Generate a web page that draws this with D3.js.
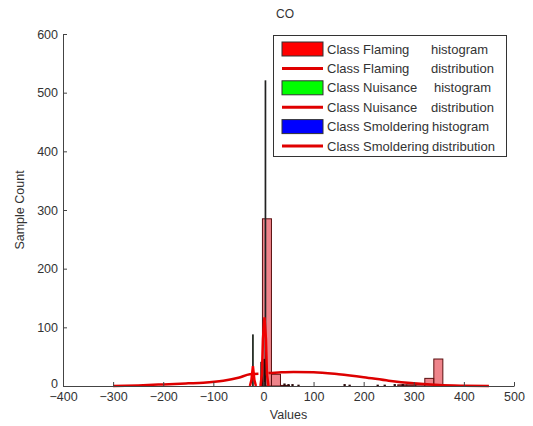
<!DOCTYPE html>
<html>
<head>
<meta charset="utf-8">
<script src="https://cdn.jsdelivr.net/npm/d3@7"></script>
<style>
  body { margin: 0; background: #fff; }
  svg { display: block; font-family: "Liberation Sans", Arial, sans-serif; }
</style>
</head>
<body>
<div id="chart"></div>
<script>
// ticks
const xTicks = [-400, -300, -200, -100, 0, 100, 200, 300, 400, 500];
const yTicks = [0, 100, 200, 300, 400, 500, 600];

// Flaming histogram: bin start, bin end, count
const flamingBins = [
  [-2, 16, 285], [16, 34, 20], [34, 52, 1],
  [268, 286, 2], [286, 304, 2], [304, 322, 3],
  [322, 340, 13], [340, 358, 46]
];
// Nuisance histogram (very narrow bins): centre, count
const nuisanceBins = [[-21, 87], [4, 520]];
// Smoldering histogram (very narrow bins): centre, count
const smolderingBins = [
  [-4, 40], [2, 45], [42, 3], [50, 2], [58, 2], [70, 1],
  [162, 2], [172, 1], [228, 1], [242, 1], [262, 2], [278, 2]
];

// distribution curves (value, count)
const flamingDist = [
  [10, 22], [30, 23], [60, 24], [100, 23.5], [150, 20], [200, 15],
  [250, 9], [300, 4.5], [350, 1.5], [400, 0.4], [450, 0]
];
const smolderingDist = [
  [-300, 0], [-250, 1], [-200, 2.7], [-150, 4.5], [-120, 5.6],
  [-80, 9], [-50, 14], [-27, 20], [-10, 21]
];
const nuisanceDist = [
  [-6, 0], [-3, 20], [-1, 80], [2, 117], [5, 80], [7, 20], [10, 0]
];
const nuisanceDist2 = [
  [-27, 0], [-24, 10], [-21, 34], [-18, 10], [-15, 0]
];

// legend rows: swatch type, colour, class text, kind text
const legendItems = [
  { type: "patch", color: "#ff0000", a: "Class Flaming", b: "histogram" },
  { type: "line", color: "#e00000", a: "Class Flaming", b: "distribution" },
  { type: "patch", color: "#00ff00", a: "Class Nuisance", b: "histogram" },
  { type: "line", color: "#e00000", a: "Class Nuisance", b: "distribution" },
  { type: "patch", color: "#0000ff", a: "Class Smoldering", b: "histogram" },
  { type: "line", color: "#e00000", a: "Class Smoldering", b: "distribution" }
];
// x of the second word in each row (the original pads with spaces)
const legendTextB = [431, 431, 434, 431, 432, 432];

let width = 533, height = 426;
let svg = d3.select("#chart").append("svg")
  .attr("width", width)
  .attr("height", height);

let x = d3.scaleLinear().domain([-400, 500]).range([63, 514]);
let y = d3.scaleLinear().domain([0, 600]).range([386, 34]);

// flaming bars (semi-transparent red)
svg.append("g").selectAll("rect")
  .data(flamingBins)
  .enter().append("rect")
  .attr("x", d => x(d[0]))
  .attr("y", d => y(d[2]))
  .attr("width", d => x(d[1]) - x(d[0]))
  .attr("height", d => y(0) - y(d[2]))
  .attr("fill", "#e8505a")
  .attr("fill-opacity", 0.7)
  .attr("stroke", "#5a1010")
  .attr("stroke-width", 1);

// nuisance bars, so narrow only the edge shows
svg.append("g").selectAll("rect")
  .data(nuisanceBins)
  .enter().append("rect")
  .attr("x", d => x(d[0] - 0.5))
  .attr("y", d => y(d[1]))
  .attr("width", d => x(d[0] + 0.5) - x(d[0] - 0.5))
  .attr("height", d => y(0) - y(d[1]))
  .attr("fill", "#00ff00")
  .attr("stroke", "#222")
  .attr("stroke-width", 1.2);

svg.append("g").selectAll("rect")
  .data(smolderingBins)
  .enter().append("rect")
  .attr("x", d => x(d[0] - 0.8))
  .attr("y", d => y(d[1]))
  .attr("width", d => x(d[0] + 0.8) - x(d[0] - 0.8))
  .attr("height", d => y(0) - y(d[1]))
  .attr("fill", "#0000ff")
  .attr("stroke", "#2a0a0a")
  .attr("stroke-width", 1.5);

let line = d3.line().x(d => x(d[0])).y(d => y(d[1])).curve(d3.curveMonotoneX);
let spikeLine = d3.line().x(d => x(d[0])).y(d => y(d[1]));

[flamingDist, smolderingDist].forEach(c => {
  svg.append("path")
    .attr("d", line(c))
    .attr("fill", "none")
    .attr("stroke", "#dd0000")
    .attr("stroke-width", 2.5);
});
[nuisanceDist, nuisanceDist2].forEach(c => {
  svg.append("path")
    .attr("d", spikeLine(c))
    .attr("fill", "none")
    .attr("stroke", "#f00000")
    .attr("stroke-width", 2.5);
});

// axes (box off, ticks inward)
let xAxis = svg.append("g")
  .attr("transform", "translate(0," + y(0) + ")")
  .call(d3.axisBottom(x).tickValues(xTicks).tickSize(-4).tickSizeOuter(0).tickPadding(6));
let yAxis = svg.append("g")
  .attr("transform", "translate(" + x(-400) + ",0)")
  .call(d3.axisLeft(y).tickValues(yTicks).tickSize(-4).tickSizeOuter(0).tickPadding(5));

[xAxis, yAxis].forEach(a => {
  a.select(".domain").attr("stroke", "#444");
  a.selectAll(".tick line").attr("stroke", "#444");
  a.selectAll(".tick text")
    .attr("fill", "#333")
    .style("font-size", "12.5px")
    .style("font-family", "'Liberation Sans', Arial, sans-serif");
});
// the "0" label sits just above "-400" as in the original
yAxis.selectAll(".tick text").filter(d => d === 0).attr("dy", "0.1em");

svg.append("text")
  .attr("x", 285).attr("y", 18)
  .attr("text-anchor", "middle")
  .attr("fill", "#333")
  .style("font-size", "12px")
  .text("CO");

svg.append("text")
  .attr("x", (x(-400) + x(500)) / 2).attr("y", 419)
  .attr("text-anchor", "middle")
  .attr("fill", "#333")
  .style("font-size", "12.5px")
  .text("Values");

svg.append("text")
  .attr("transform", "translate(24,210) rotate(-90)")
  .attr("text-anchor", "middle")
  .attr("fill", "#333")
  .style("font-size", "12.5px")
  .text("Sample Count");

// legend
let lg = svg.append("g");
lg.append("rect")
  .attr("x", 273.5).attr("y", 35.5)
  .attr("width", 233).attr("height", 121)
  .attr("fill", "#fff")
  .attr("stroke", "#333")
  .attr("stroke-width", 1);

legendItems.forEach((d, i) => {
  let cy = 49 + i * 19.4;
  if (d.type === "patch") {
    lg.append("rect")
      .attr("x", 282).attr("y", cy - 7)
      .attr("width", 41).attr("height", 14)
      .attr("fill", d.color)
      .attr("stroke", "#333")
      .attr("stroke-width", 1);
  } else {
    lg.append("line")
      .attr("x1", 282).attr("x2", 323)
      .attr("y1", cy).attr("y2", cy)
      .attr("stroke", d.color)
      .attr("stroke-width", 3);
  }
  lg.append("text")
    .attr("x", 327).attr("y", cy + 4.5)
    .attr("fill", "#333")
    .style("font-size", "13px")
    .text(d.a);
  lg.append("text")
    .attr("x", legendTextB[i]).attr("y", cy + 4.5)
    .attr("fill", "#333")
    .style("font-size", "13px")
    .text(d.b);
});
</script>
</body>
</html>
